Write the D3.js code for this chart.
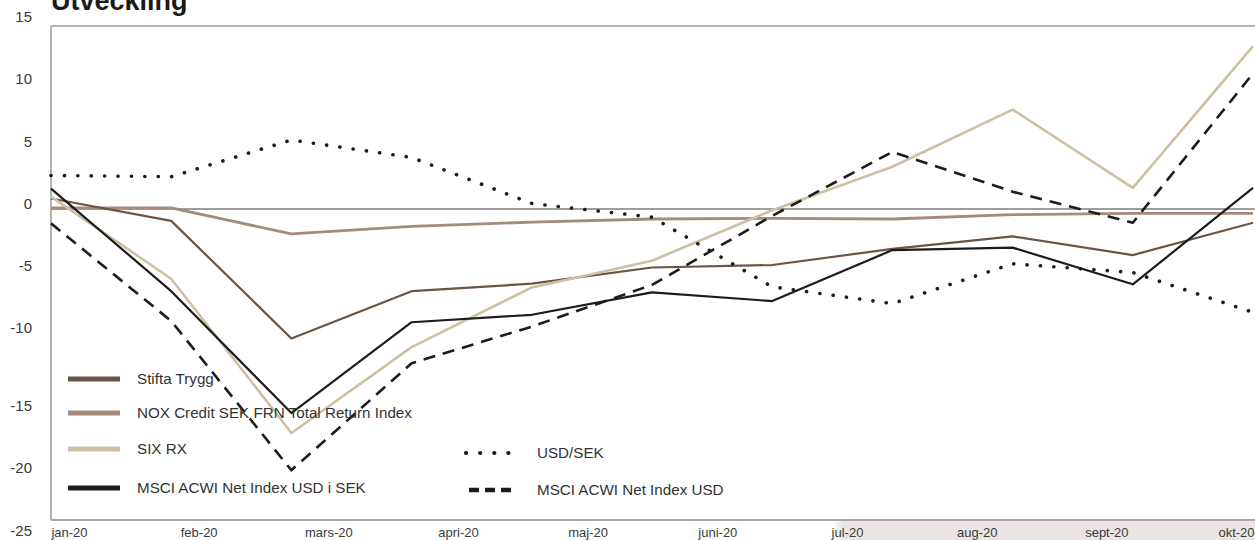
<!DOCTYPE html>
<html>
<head>
<meta charset="utf-8">
<script src="https://cdn.jsdelivr.net/npm/d3@7"></script>
<style>
  body { margin: 0; background: #fff; }
  svg { display: block; font-family: "Liberation Sans", Arial, sans-serif; }
</style>
</head>
<body>
<div id="chart"></div>
<script>
// month-end observations, first one is the starting point
var periods = ["dec-19", "jan-20", "feb-20", "mar-20", "apr-20", "maj-20", "jun-20", "jul-20", "aug-20", "sep-20", "okt-20"];
var monthLabels = ["jan-20", "feb-20", "mars-20", "apri-20", "maj-20", "juni-20", "jul-20", "aug-20", "sept-20", "okt-20"];
var yTicks = [15, 10, 5, 0, -5, -10, -15, -20, -25];

var stiftaTrygg = [0.85, -0.95, -10.4, -6.6, -6.0, -4.7, -4.5, -3.2, -2.2, -3.7, -1.1];
var noxCredit   = [0.1, 0.1, -2.0, -1.4, -1.05, -0.8, -0.75, -0.8, -0.45, -0.35, -0.35];
var sixRx       = [1.0, -5.6, -18.0, -11.1, -6.3, -4.15, -0.1, 3.4, 8.0, 1.7, 13.1];
var msciSek     = [1.65, -6.6, -16.4, -9.1, -8.5, -6.7, -7.4, -3.3, -3.1, -6.05, 1.7];
var usdSek      = [2.7, 2.6, 5.55, 4.15, 0.45, -0.65, -6.25, -7.6, -4.4, -5.1, -8.3];
var msciUsd     = [-1.15, -9.0, -21.0, -12.4, -9.45, -6.1, -0.55, 4.6, 1.4, -1.1, 10.9];

var seriesNames = ["Stifta Trygg", "NOX Credit SEK FRN Total Return Index", "SIX RX",
                   "MSCI ACWI Net Index USD i SEK", "USD/SEK", "MSCI ACWI Net Index USD"];

var W = 1255, H = 540;
var margin = { top: 26, left: 51, right: 0, bottom: 20 };
var width = W - margin.left - margin.right;
var height = H - margin.top - margin.bottom;

var svg = d3.select("#chart").append("svg")
    .attr("width", W)
    .attr("height", H);

////////////////////// background strip under the last months /////////////////////
var stripGrad = svg.append("defs").append("linearGradient")
    .attr("id", "stripGrad")
    .attr("x1", "0%").attr("x2", "100%");
stripGrad.append("stop").attr("offset", "0%").attr("stop-color", "#ebe6e3").attr("stop-opacity", 0);
stripGrad.append("stop").attr("offset", "2%").attr("stop-color", "#ebe6e3").attr("stop-opacity", 1);
stripGrad.append("stop").attr("offset", "100%").attr("stop-color", "#ebe6e3").attr("stop-opacity", 1);

svg.append("rect")
    .attr("x", 834).attr("y", margin.top + height + 1)
    .attr("width", W - 834).attr("height", H - margin.top - height)
    .attr("fill", "url(#stripGrad)");

var g = svg.append("g")
    .attr("transform", "translate(" + margin.left + "," + margin.top + ")");

var x = d3.scalePoint().domain(periods).range([0, width - 2]);
var y = d3.scaleLinear().domain([-25, 15]).range([height, -3.5]);
var xLab = d3.scalePoint().domain(monthLabels).range([18, width - 19]);

/////////////////////  title /////////////////////
svg.append("text")
    .attr("x", 51).attr("y", 10)
    .attr("font-size", 27)
    .attr("font-weight", "bold")
    .attr("fill", "#1a1a1a")
    .text("Utveckling");

/////////////////////  frame + axes /////////////////////
g.append("line").attr("x1", 0).attr("x2", width).attr("y1", 0).attr("y2", 0)
    .attr("stroke", "#9a9a9a").attr("stroke-width", 1.5);
g.append("line").attr("x1", 0).attr("x2", 0).attr("y1", 0).attr("y2", height)
    .attr("stroke", "#9a9a9a").attr("stroke-width", 1.5);
g.append("line").attr("x1", 0).attr("x2", width).attr("y1", height).attr("y2", height)
    .attr("stroke", "#a8a8a8").attr("stroke-width", 2);

var yAxis = g.append("g")
    .call(d3.axisLeft(y).tickValues(yTicks).tickSize(0).tickPadding(19).tickFormat(String));
yAxis.select(".domain").remove();
yAxis.selectAll("text")
    .attr("font-size", 15)
    .attr("font-family", "Liberation Sans, Arial, sans-serif")
    .attr("fill", "#3a3a3a")
    // the labels in the original sit a bit off the grid
    .attr("dy", function (d) { return d <= -15 ? "1.0em" : "-0.05em"; });

var xAxis = g.append("g")
    .attr("transform", "translate(0," + height + ")")
    .call(d3.axisBottom(xLab).tickSize(0).tickPadding(8));
xAxis.select(".domain").remove();
xAxis.selectAll("text")
    .attr("font-size", 13)
    .attr("font-family", "Liberation Sans, Arial, sans-serif")
    .attr("fill", "#3a3a3a");

// zero line
g.append("line")
    .attr("x1", 0).attr("x2", width)
    .attr("y1", y(0)).attr("y2", y(0))
    .attr("stroke", "#3f3f3f").attr("stroke-width", 1.1);

/////////////////////  lines /////////////////////
var line = d3.line()
    .x(function (d, i) { return x(periods[i]); })
    .y(function (d) { return y(d); });

var series = [
  { name: seriesNames[1], values: noxCredit,   color: "#a48b7b", width: 2.8, dash: null },
  { name: seriesNames[0], values: stiftaTrygg, color: "#6b5446", width: 2.2, dash: null },
  { name: seriesNames[2], values: sixRx,       color: "#cfc0a5", width: 2.6, dash: null },
  { name: seriesNames[3], values: msciSek,     color: "#1c1c1c", width: 2.2, dash: null },
  { name: seriesNames[4], values: usdSek,      color: "#1c1c1c", width: 3.6, dash: "0.1,13.3", cap: "round" },
  { name: seriesNames[5], values: msciUsd,     color: "#1c1c1c", width: 2.6, dash: "12,8" }
];

g.selectAll(".series")
    .data(series)
    .enter()
    .append("path")
    .attr("class", "series")
    .attr("d", function (d) { return line(d.values); })
    .attr("fill", "none")
    .attr("stroke", function (d) { return d.color; })
    .attr("stroke-width", function (d) { return d.width; })
    .attr("stroke-dasharray", function (d) { return d.dash; })
    .attr("stroke-linecap", function (d) { return d.cap || "butt"; })
    .attr("stroke-linejoin", "round");

/////////////////////  legend /////////////////////
var legendItems = [
  { s: series[1], lx: 68, ly: 379, len: 52, w: 5, tx: 137 },
  { s: series[0], lx: 68, ly: 413, len: 52, w: 5, tx: 137 },
  { s: series[2], lx: 68, ly: 449, len: 52, w: 5, tx: 137 },
  { s: series[3], lx: 68, ly: 488, len: 52, w: 5, tx: 137 },
  { s: series[4], lx: 466, ly: 453, len: 44, w: 4.2, tx: 537, dash: "0.1,14", cap: "round" },
  { s: series[5], lx: 469, ly: 490, len: 42, w: 4.5, tx: 537, dash: "10,6" }
];

var legend = svg.selectAll(".legend")
    .data(legendItems)
    .enter()
    .append("g")
    .attr("class", "legend");

legend.append("line")
    .attr("x1", function (d) { return d.lx; })
    .attr("x2", function (d) { return d.lx + d.len; })
    .attr("y1", function (d) { return d.ly; })
    .attr("y2", function (d) { return d.ly; })
    .attr("stroke", function (d) { return d.s.color; })
    .attr("stroke-width", function (d) { return d.w; })
    .attr("stroke-dasharray", function (d) { return d.dash || null; })
    .attr("stroke-linecap", function (d) { return d.cap || "butt"; });

legend.append("text")
    .attr("x", function (d) { return d.tx; })
    .attr("y", function (d) { return d.ly; })
    .attr("dy", "0.35em")
    .attr("font-size", 15.2)
    .attr("fill", "#333")
    .text(function (d) { return d.s.name; });
</script>
</body>
</html>
